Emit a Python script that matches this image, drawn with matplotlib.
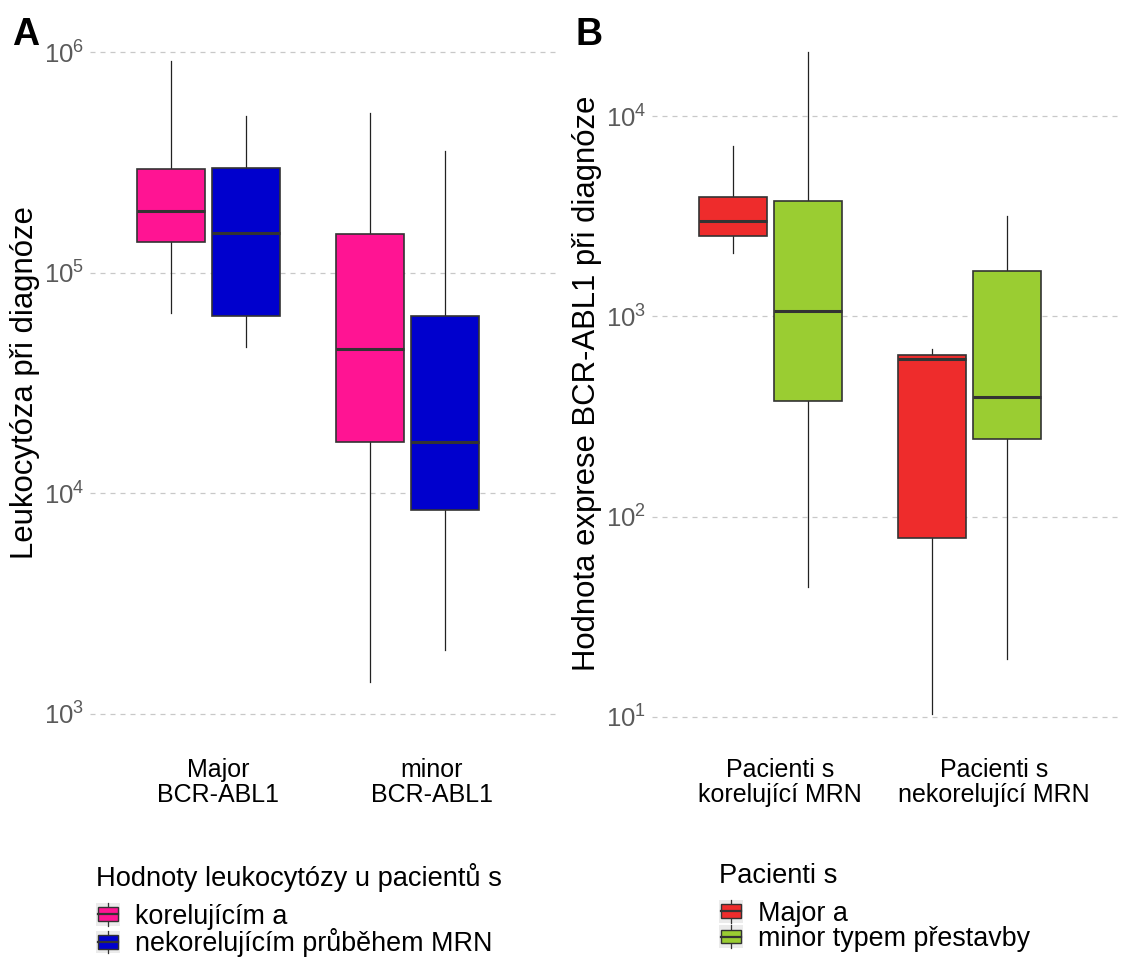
import math
import matplotlib
matplotlib.use("Agg")
import matplotlib.pyplot as plt
from matplotlib.legend_handler import HandlerBase
from matplotlib.patches import Rectangle
from matplotlib.lines import Line2D
from matplotlib.ticker import NullLocator

plt.rcParams["font.family"] = ["Liberation Sans", "DejaVu Sans"]
plt.rcParams["mathtext.fontset"] = "custom"
plt.rcParams["mathtext.rm"] = "Liberation Sans"
plt.rcParams["mathtext.it"] = "Liberation Sans:italic"

# Panel A: leukocytosis at diagnosis
cat_a = ["Major\nBCR-ABL1", "minor\nBCR-ABL1"]
groups_a = ["korelujícím a", "nekorelujícím průběhem MRN"]
colors_a = ["#FF1493", "#0000CD"]
a_kor_low = [65600, 1400]
a_kor_q1 = [138000, 17100]
a_kor_med = [190000, 45100]
a_kor_q3 = [295000, 150000]
a_kor_high = [910000, 529000]
a_nek_low = [46000, 1950]
a_nek_q1 = [63600, 8400]
a_nek_med = [151000, 17100]
a_nek_q3 = [298000, 63600]
a_nek_high = [513000, 356000]

# Panel B: BCR-ABL1 expression at diagnosis
cat_b = ["Pacienti s\nkorelující MRN", "Pacienti s\nnekorelující MRN"]
groups_b = ["Major a", "minor typem přestavby"]
colors_b = ["#EE2C2C", "#9ACD32"]
b_maj_low = [2070, 10.4]
b_maj_q1 = [2510, 78.5]
b_maj_med = [2990, 610]
b_maj_q3 = [3940, 638]
b_maj_high = [7080, 684]
b_min_low = [44.7, 19.5]
b_min_q1 = [376, 245]
b_min_med = [1070, 394]
b_min_q3 = [3760, 1680]
b_min_high = [20900, 3160]

ticks_a = [1e3, 1e4, 1e5, 1e6]
ticks_b = [1e1, 1e2, 1e3, 1e4]

EDGE = "#333333"
# box centres relative to each category (as dodged in the original)
DODGE = [[-0.22, -0.29], [0.13, 0.06]]
BOXW = 0.318


def stats(low, q1, med, q3, high):
    return [dict(whislo=l, q1=a, med=m, q3=b, whishi=h, fliers=[])
            for l, a, m, b, h in zip(low, q1, med, q3, high)]


def draw_boxes(ax, series, colors):
    for k, (st, col) in enumerate(zip(series, colors)):
        pos = [i + 1 + DODGE[k][i] for i in range(len(st))]
        bp = ax.bxp(st, positions=pos, widths=BOXW, patch_artist=True,
                    showfliers=False, showcaps=False, manage_ticks=False,
                    boxprops=dict(facecolor=col, edgecolor=EDGE, linewidth=1.2),
                    medianprops=dict(color=EDGE, linewidth=2.2),
                    whiskerprops=dict(color="#222222", linewidth=0.9))
        for b in bp["boxes"]:
            b.set_zorder(3)
        for m in bp["medians"]:
            m.set_zorder(4)


def style_axes(ax, cats, ticks, ylim, ylabel):
    ax.set_yscale("log")
    ax.set_ylim(*ylim)
    ax.set_xlim(0.4, 2.6)
    ax.set_yticks(ticks)
    ax.set_yticklabels([r"$10^{%d}$" % round(math.log10(t)) for t in ticks])
    ax.yaxis.set_minor_locator(NullLocator())
    ax.set_xticks([1, 2])
    ax.set_xticklabels(cats, linespacing=1.05)
    ax.tick_params(axis="both", length=0)
    ax.tick_params(axis="y", labelsize=18.5, labelcolor="#5A5A5A", pad=4)
    ax.tick_params(axis="x", labelsize=18, labelcolor="black", pad=8)
    for s in ax.spines.values():
        s.set_visible(False)
    ax.yaxis.grid(True, linestyle=(0, (4, 4)), color="#C8C8C8", linewidth=0.9)
    ax.xaxis.grid(False)
    ax.set_axisbelow(True)
    ax.set_ylabel(ylabel, fontsize=22.4, labelpad=3)


class BoxKey(HandlerBase):
    def create_artists(self, legend, orig_handle, xdescent, ydescent,
                       width, height, fontsize, trans):
        x0, y0 = -xdescent, -ydescent
        bg = Rectangle((x0, y0), width, height, facecolor="#EBEBEB",
                       edgecolor="none", transform=trans)
        cx = x0 + width / 2
        wl = Line2D([cx, cx], [y0, y0 + height], color="#333333", lw=0.9,
                    transform=trans)
        bw, bh = width * 0.84, height * 0.62
        box = Rectangle((cx - bw / 2, y0 + (height - bh) / 2), bw, bh,
                        facecolor=orig_handle.get_facecolor(), edgecolor=EDGE,
                        lw=1.0, transform=trans)
        md = Line2D([cx - bw / 2, cx + bw / 2], [y0 + height / 2] * 2,
                    color=EDGE, lw=1.6, transform=trans)
        return [bg, wl, box, md]


W, H = 1123, 958
fig = plt.figure(figsize=(W / 100, H / 100), dpi=100)
ax_a = fig.add_axes([90 / W, 1 - 747 / H, 470 / W, 728 / H])
ax_b = fig.add_axes([652 / W, 1 - 747 / H, 470 / W, 728 / H])

draw_boxes(ax_a, [stats(a_kor_low, a_kor_q1, a_kor_med, a_kor_q3, a_kor_high),
                  stats(a_nek_low, a_nek_q1, a_nek_med, a_nek_q3, a_nek_high)],
           colors_a)
style_axes(ax_a, cat_a, ticks_a, (10 ** 2.85, 10 ** 6.15), "Leukocytóza při diagnóze")

draw_boxes(ax_b, [stats(b_maj_low, b_maj_q1, b_maj_med, b_maj_q3, b_maj_high),
                  stats(b_min_low, b_min_q1, b_min_med, b_min_q3, b_min_high)],
           colors_b)
style_axes(ax_b, cat_b, ticks_b, (10 ** 0.85, 10 ** 4.485),
           "Hodnota exprese BCR-ABL1 při diagnóze")

fig.text(12 / W, 1 - 45 / H, "A", fontsize=27, fontweight="bold")
fig.text(575 / W, 1 - 45 / H, "B", fontsize=27, fontweight="bold")

# legends
for groups, colors, title, xpos in [(groups_a, colors_a, "Hodnoty leukocytózy u pacientů s", 88),
                                    (groups_b, colors_b, "Pacienti s", 711)]:
    handles = [Rectangle((0, 0), 1, 1, facecolor=c) for c in colors]
    leg = fig.legend(handles, groups, title=title, loc="upper left",
                     bbox_to_anchor=(xpos / W, 1 - 855 / H), frameon=False,
                     fontsize=19.4, title_fontsize=19.6, handlelength=0.88,
                     handleheight=0.9, handletextpad=0.55, labelspacing=-0.05,
                     borderaxespad=0, borderpad=0.3,
                     handler_map={Rectangle: BoxKey()})
    leg._legend_box.align = "left"
    leg._legend_box.sep = 8

fig.savefig("out.png", dpi=100)
